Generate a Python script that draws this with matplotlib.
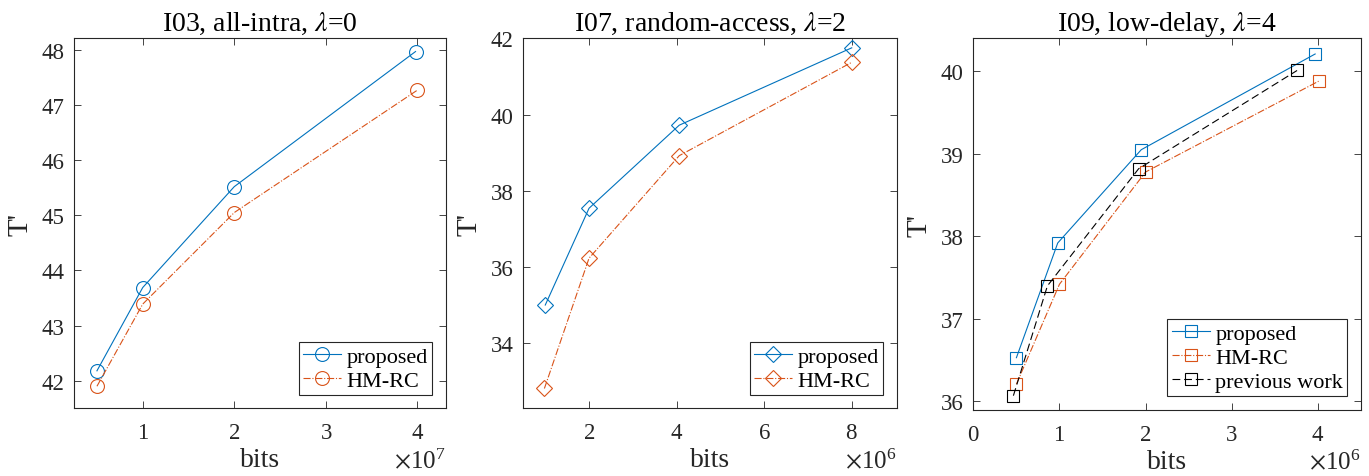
import matplotlib
matplotlib.use("Agg")
import matplotlib.pyplot as plt
from matplotlib.ticker import ScalarFormatter

plt.rcParams['font.family'] = ['Liberation Serif', 'DejaVu Serif']
plt.rcParams['mathtext.fontset'] = 'stix'

# panel 1: I03 all-intra
bits_i03 = [0.5e7, 1.0e7, 2.0e7, 3.98e7]
prop_i03 = [42.18, 43.69, 45.52, 47.97]
bits_i03_hm = [0.5e7, 1.0e7, 2.0e7, 4.0e7]
hm_i03 = [41.90, 43.39, 45.05, 47.27]

# panel 2: I07 random-access
bits_i07 = [1.0e6, 2.0e6, 4.06e6, 8.0e6]
prop_i07 = [35.00, 37.54, 39.72, 41.75]
bits_i07_hm = [0.98e6, 2.0e6, 4.06e6, 8.0e6]
hm_i07 = [32.81, 36.23, 38.92, 41.37]

# panel 3: I09 low-delay
bits_i09 = [0.5e6, 0.98e6, 1.95e6, 3.97e6]
prop_i09 = [36.53, 37.92, 39.05, 40.21]
bits_i09_hm = [0.5e6, 1.0e6, 2.0e6, 4.01e6]
hm_i09 = [36.21, 37.42, 38.78, 39.88]
bits_i09_prev = [0.465e6, 0.86e6, 1.92e6, 3.76e6]
prev_i09 = [36.07, 37.40, 38.82, 40.01]

BLUE = '#0072BD'
ORANGE = '#D95319'
AXC = '#262626'

fig = plt.figure(figsize=(13.69, 4.77), dpi=100)
ax1 = fig.add_axes([0.0541, 0.1419, 0.2715, 0.7757])
ax2 = fig.add_axes([0.3823, 0.1419, 0.2728, 0.7757])
ax3 = fig.add_axes([0.7110, 0.1390, 0.2830, 0.7786])


def style(ax, title, xlim, ylim, xticks, yticks):
    ax.set_xlim(*xlim)
    ax.set_ylim(*ylim)
    ax.set_xticks(xticks)
    ax.set_yticks(yticks)
    fmt = ScalarFormatter(useMathText=True)
    fmt.set_powerlimits((0, 0))
    ax.xaxis.set_major_formatter(fmt)
    ax.xaxis.get_offset_text().set_fontsize(18)
    ax.xaxis.get_offset_text().set_color(AXC)
    ax.tick_params(direction='in', top=True, right=True, labelsize=16.5,
                   colors=AXC, length=5, width=0.6)
    ax.tick_params(axis='x', pad=10)
    ax.tick_params(axis='y', pad=7)
    for sp in ax.spines.values():
        sp.set_color(AXC)
        sp.set_linewidth(0.8)
    ax.set_title(title, fontsize=20, color='black', pad=6)
    ax.set_xlabel('bits', fontsize=20, color=AXC, labelpad=3)
    ax.set_ylabel("T'", fontsize=21, color=AXC, labelpad=6)
    leg = ax.legend(loc='lower right', fontsize=16, handlelength=1.7,
                    fancybox=False, framealpha=1, edgecolor=AXC,
                    borderpad=0.2, labelspacing=0.15, handletextpad=0.25,
                    borderaxespad=0.6)
    leg.get_frame().set_linewidth(0.8)


ax1.plot(bits_i03, prop_i03, '-', color=BLUE, lw=0.8, marker='o', ms=10,
         mfc='none', mew=0.8, label='proposed')
ax1.plot(bits_i03_hm, hm_i03, '-.', color=ORANGE, lw=0.8, marker='o', ms=10,
         mfc='none', mew=0.8, label='HM-RC')
style(ax1, r'I03, all-intra, $\lambda$=0', (0.25e7, 4.31e7), (41.5, 48.21),
      [1e7, 2e7, 3e7, 4e7], [42, 43, 44, 45, 46, 47, 48])

ax2.plot(bits_i07, prop_i07, '-', color=BLUE, lw=0.8, marker='D', ms=8,
         mfc='none', mew=0.8, label='proposed')
ax2.plot(bits_i07_hm, hm_i07, '-.', color=ORANGE, lw=0.8, marker='D', ms=8,
         mfc='none', mew=0.8, label='HM-RC')
style(ax2, r'I07, random-access, $\lambda$=2', (0.5e6, 9.03e6), (32.29, 42),
      [2e6, 4e6, 6e6, 8e6], [34, 36, 38, 40, 42])

ax3.plot(bits_i09, prop_i09, '-', color=BLUE, lw=0.8, marker='s', ms=8,
         mfc='none', mew=0.8, label='proposed')
ax3.plot(bits_i09_hm, hm_i09, '-.', color=ORANGE, lw=0.8, marker='s', ms=8,
         mfc='none', mew=0.8, label='HM-RC')
ax3.plot(bits_i09_prev, prev_i09, '--', color='black', lw=0.8, marker='s',
         ms=8, mfc='none', mew=0.8, dashes=(7, 3.5), label='previous work')
style(ax3, r'I09, low-delay, $\lambda$=4', (0, 4.5e6), (35.9, 40.4),
      [0, 1e6, 2e6, 3e6, 4e6], [36, 37, 38, 39, 40])

fig.savefig('out.png', dpi=100)
